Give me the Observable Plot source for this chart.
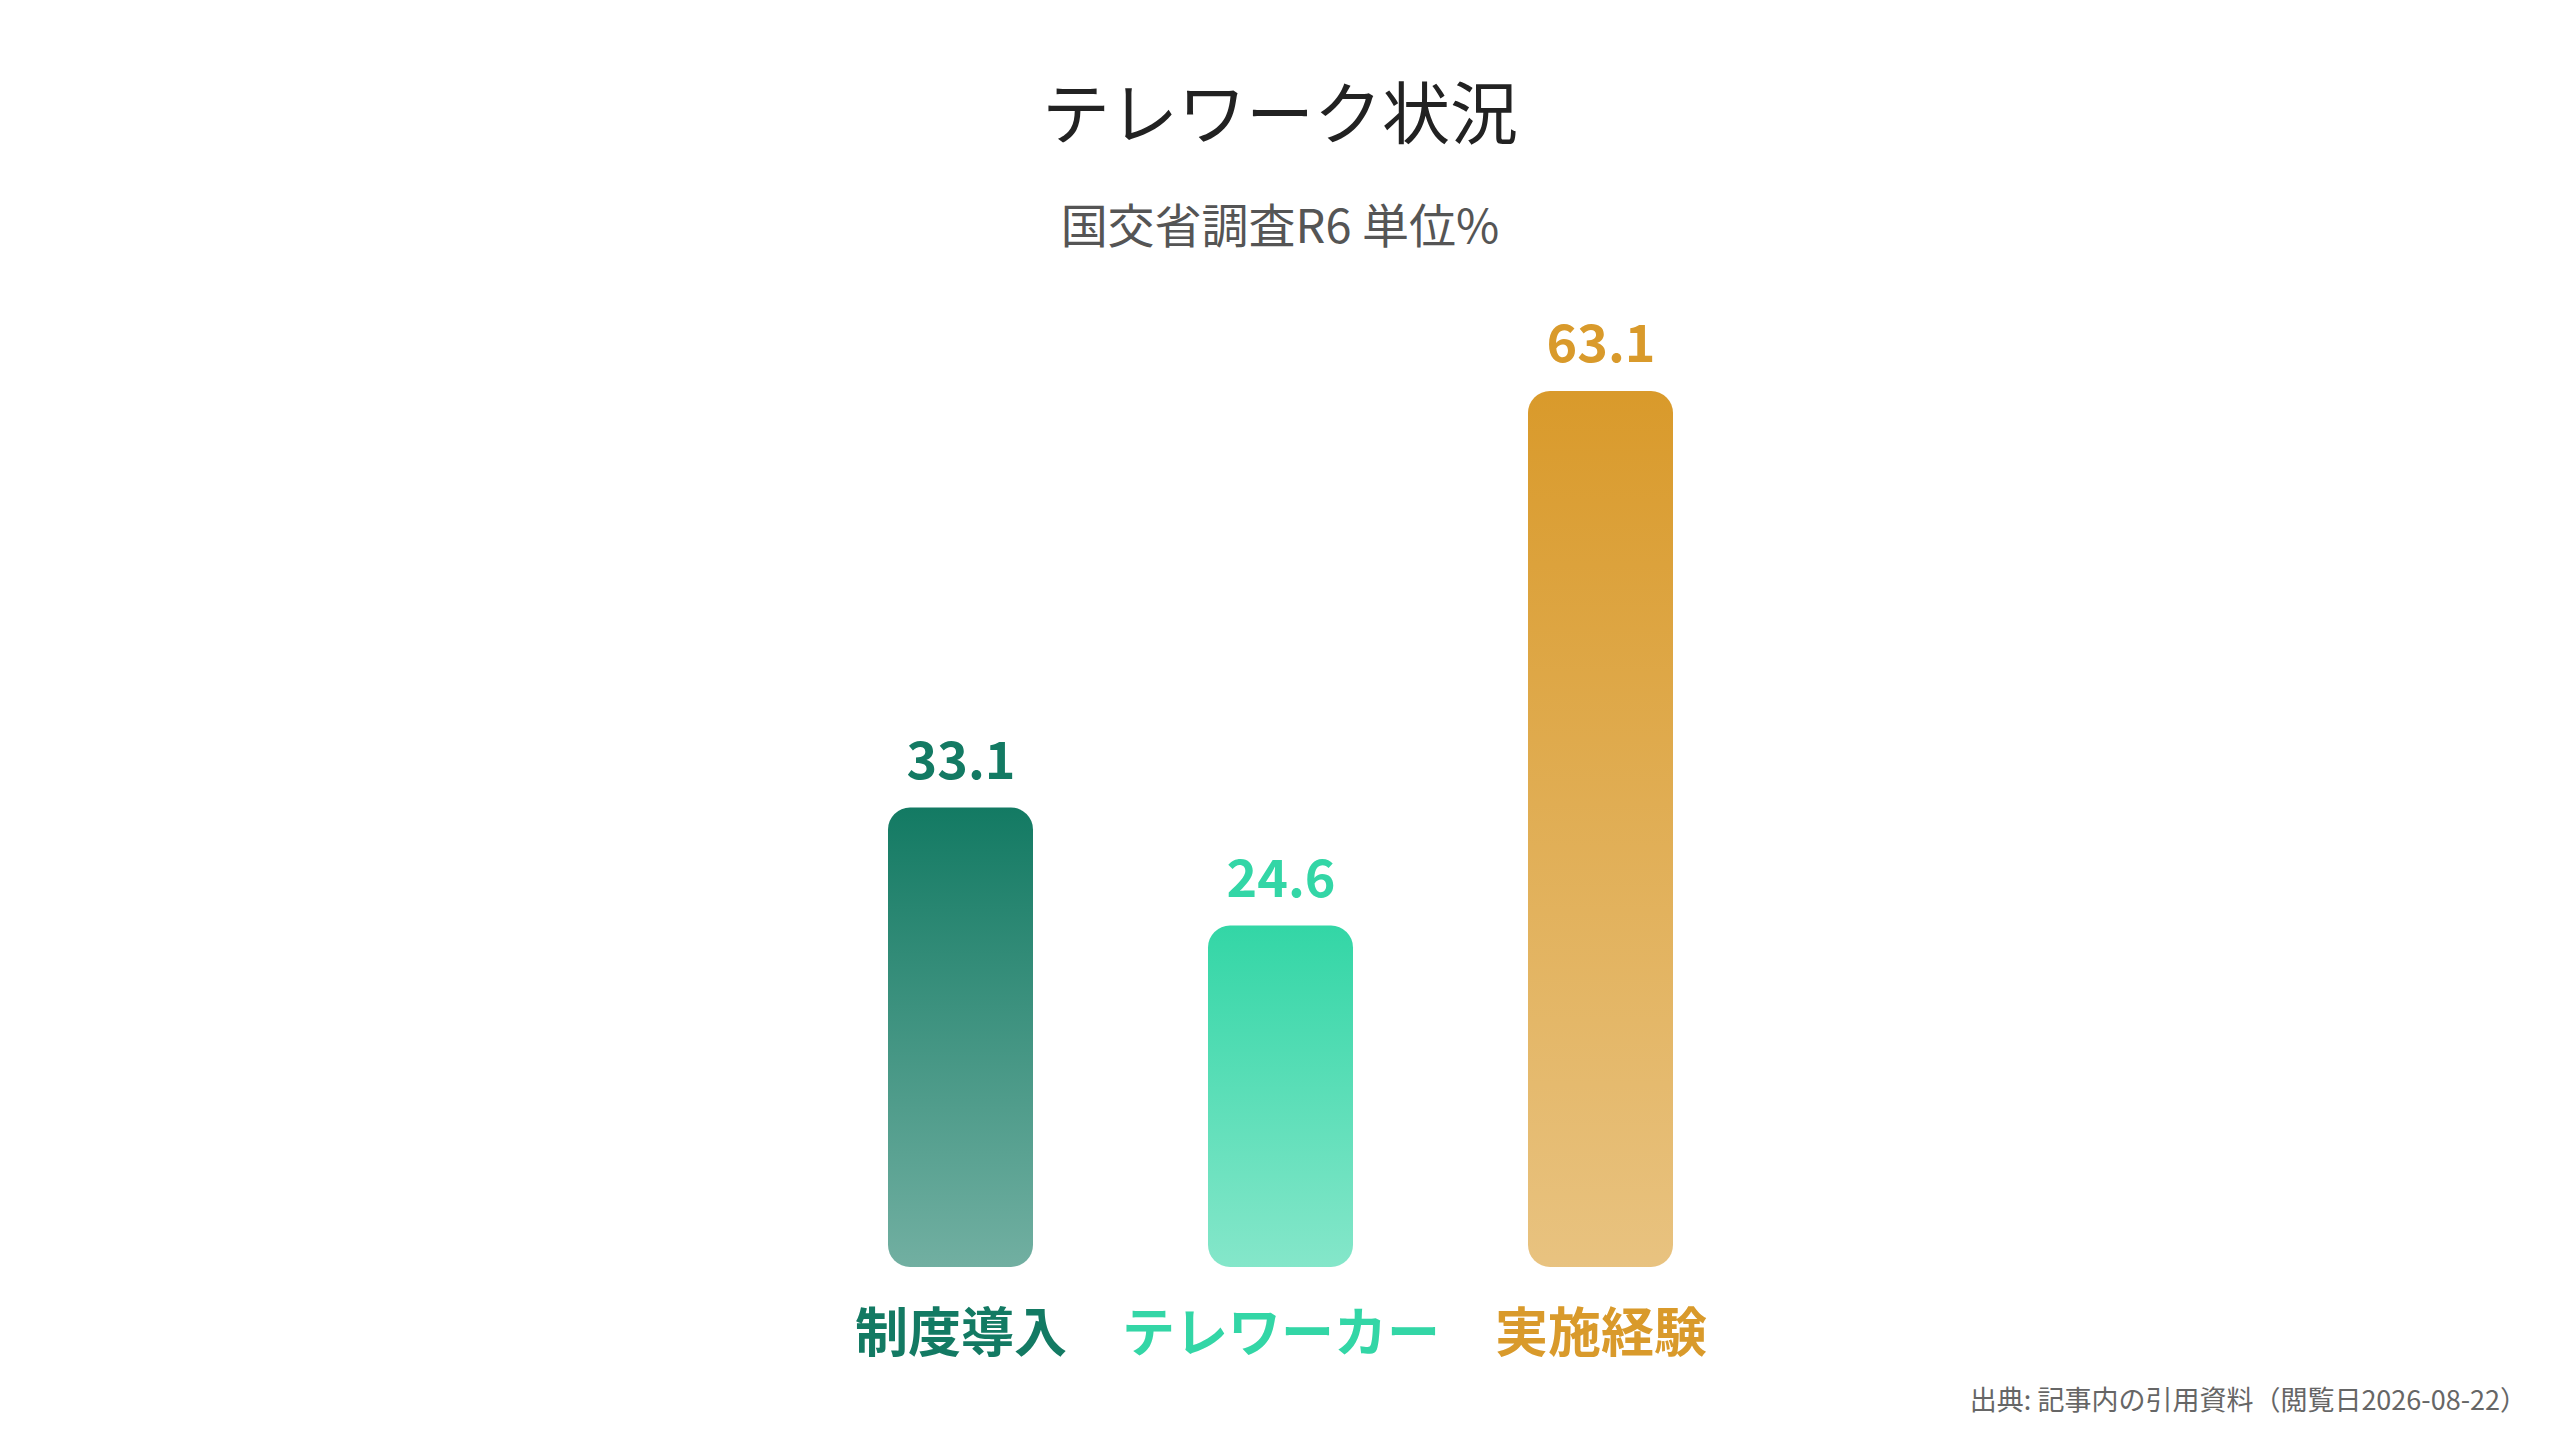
<!DOCTYPE html>
<html>
<head>
<meta charset="utf-8">
<script src="https://cdn.jsdelivr.net/npm/d3@7"></script>
<script src="https://cdn.jsdelivr.net/npm/@observablehq/plot@0.6"></script>
<style>
  html, body { margin: 0; padding: 0; background: #ffffff; }
  body { width: 2560px; height: 1440px; position: relative; overflow: hidden; font-family: "Noto Sans CJK JP", "Noto Sans", sans-serif; }
  #header { position: relative; width: 2560px; height: 300px; }
  #title { position: absolute; left: 0; width: 2560px; top: 76px; text-align: center; font-size: 68px; line-height: 1; color: #222222; font-weight: 400; }
  #subtitle { position: absolute; left: 0; width: 2560px; top: 199px; text-align: center; font-size: 47px; line-height: 1; color: #555555; font-weight: 400; }
  #chart { position: relative; width: 2560px; height: 1080px; }
  #footer { position: relative; width: 2560px; height: 60px; }
  #caption { position: absolute; right: 33px; top: 5px; font-size: 27px; line-height: 1; color: #666666; white-space: nowrap; }
</style>
</head>
<body>
<div id="header">
  <div id="title">テレワーク状況</div>
  <div id="subtitle">国交省調査R6 単位%</div>
</div>
<div id="chart"></div>
<div id="footer"><div id="caption">出典: 記事内の引用資料（閲覧日2026-08-22）</div></div>
<script>
const categories = ["制度導入", "テレワーカー", "実施経験"];
const values = [33.1, 24.6, 63.1];
const colors = ["#137A63", "#33D6A6", "#D99A2B"];

const data = categories.map((c, i) => ({
  category: c,
  value: values[i],
  color: colors[i],
  grad: `url(#grad${i})`
}));

const chart = Plot.plot({
  width: 2560,
  height: 1080,
  marginTop: 91,
  marginBottom: 113,
  marginLeft: 887,
  marginRight: 887,
  style: { fontFamily: "'Noto Sans CJK JP', 'Noto Sans', sans-serif", background: "#ffffff" },
  x: { domain: categories, paddingInner: 0.5476, paddingOuter: 0, axis: null },
  y: { domain: [0, d3.max(values)], axis: null },
  color: { type: "identity" },
  marks: [
    Plot.barY(data, { x: "category", y: "value", fill: "grad", rx: 22 }),
    Plot.text(data, {
      x: "category", y: "value",
      text: d => d.value.toFixed(1),
      fill: "color", dy: -46, fontSize: 52, fontWeight: 700, lineAnchor: "middle"
    }),
    Plot.text(data, {
      x: "category", frameAnchor: "bottom",
      text: "category",
      fill: "color", dy: 68, fontSize: 53, fontWeight: 700, lineAnchor: "middle"
    })
  ]
});

const defs = d3.select(chart).insert("defs", ":first-child");
colors.forEach((c, i) => {
  const g = defs.append("linearGradient")
    .attr("id", `grad${i}`)
    .attr("x1", 0).attr("y1", 0).attr("x2", 0).attr("y2", 1);
  g.append("stop").attr("offset", "0%").attr("stop-color", c).attr("stop-opacity", 1);
  g.append("stop").attr("offset", "100%").attr("stop-color", c).attr("stop-opacity", 0.6);
});

document.getElementById("chart").appendChild(chart);
</script>
</body>
</html>
